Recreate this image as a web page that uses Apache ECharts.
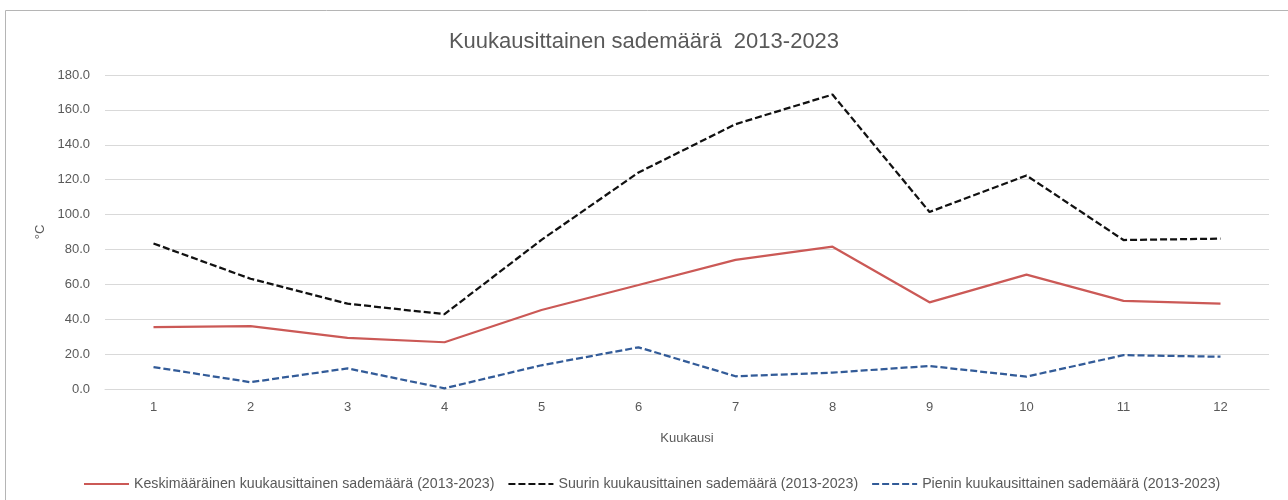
<!DOCTYPE html>
<html>
<head>
<meta charset="utf-8">
<title>Kuukausittainen sademäärä</title>
<script src="https://cdn.jsdelivr.net/npm/echarts@6/dist/echarts.min.js"></script>
<style>
    html, body { margin: 0; padding: 0; background: #fff; }
    #chart { width: 1288px; height: 500px; }
</style>
</head>
<body>
<div id="chart"></div>
<script>
// kuukaudet 1-12
var months = ["1", "2", "3", "4", "5", "6", "7", "8", "9", "10", "11", "12"];

// luettu kuvasta (mm)
var avgRain = [35.4, 36.0, 29.3, 26.8, 45.3, 59.6, 74.0, 81.6, 49.7, 65.6, 50.5, 48.9];
var maxRain = [83.4, 63.2, 48.9, 42.9, 85.5, 124.1, 151.8, 168.8, 101.5, 122.4, 85.4, 86.2];
var minRain = [12.6, 3.9, 11.8, 0.4, 13.6, 23.9, 7.3, 9.4, 13.2, 7.1, 19.4, 18.5];

var seriesNames = [
    "Keskimääräinen kuukausittainen sademäärä (2013-2023)",
    "Suurin kuukausittainen sademäärä (2013-2023)",
    "Pienin kuukausittainen sademäärä (2013-2023)"
];

var yTicks = { min: 0, max: 180, step: 20 };

var textColor = "#595959",
    gridColor = "#d9d9d9",
    font = "Liberation Sans";

var chart = echarts.init(document.getElementById("chart"));

var option = {
    backgroundColor: "#fff",
    animation: false,
    title: {
        text: "Kuukausittainen sademäärä  2013-2023",
        left: "center",
        top: 26,
        textStyle: {
            color: textColor,
            fontFamily: font,
            fontWeight: "normal",
            fontSize: 22
        }
    },
    // reunaviiva ylhäällä ja vasemmalla
    graphic: [{
        type: "rect",
        silent: true,
        shape: { x: 5.5, y: 10.5, width: 1320, height: 600 },
        style: { fill: "none", stroke: "#b5b5b5", lineWidth: 1 }
    }],
    grid: {
        left: 105,
        right: 19,
        top: 75,
        bottom: 111,
        containLabel: false
    },
    legend: {
        top: 472,
        left: 78,
        itemWidth: 45,
        itemHeight: 10,
        itemGap: 13,
        itemStyle: { opacity: 0 },
        textStyle: {
            color: textColor,
            fontFamily: font,
            fontSize: 14.2
        },
        data: seriesNames
    },
    xAxis: {
        type: "category",
        data: months,
        boundaryGap: true,
        name: "Kuukausi",
        nameLocation: "middle",
        nameGap: 43,
        nameTextStyle: { color: textColor, fontFamily: font, fontSize: 13 },
        axisLine: { lineStyle: { color: gridColor, width: 1 } },
        axisTick: { show: false },
        axisLabel: { color: textColor, fontFamily: font, fontSize: 13, margin: 12 }
    },
    yAxis: {
        type: "value",
        min: yTicks.min,
        max: yTicks.max,
        interval: yTicks.step,
        name: "°C",
        nameLocation: "middle",
        nameRotate: 90,
        nameGap: 58,
        nameTextStyle: { color: textColor, fontFamily: font, fontSize: 13 },
        axisLine: { show: false },
        axisTick: { show: false },
        axisLabel: {
            color: textColor,
            fontFamily: font,
            fontSize: 13,
            margin: 15,
            formatter: function(v){ return v.toFixed(1); }
        },
        splitLine: { lineStyle: { color: gridColor, width: 1 } }
    },
    series: [{
        name: seriesNames[0],
        type: "line",
        data: avgRain,
        showSymbol: false,
        itemStyle: { color: "#cb5956" },
        lineStyle: { color: "#cb5956", width: 2.25 }
    }, {
        name: seriesNames[1],
        type: "line",
        data: maxRain,
        showSymbol: false,
        itemStyle: { color: "#111" },
        lineStyle: { color: "#111", width: 2.25, type: [7, 3] }
    }, {
        name: seriesNames[2],
        type: "line",
        data: minRain,
        showSymbol: false,
        itemStyle: { color: "#325b98" },
        lineStyle: { color: "#325b98", width: 2.25, type: [7, 3] }
    }]
};

chart.setOption(option);
</script>
</body>
</html>
